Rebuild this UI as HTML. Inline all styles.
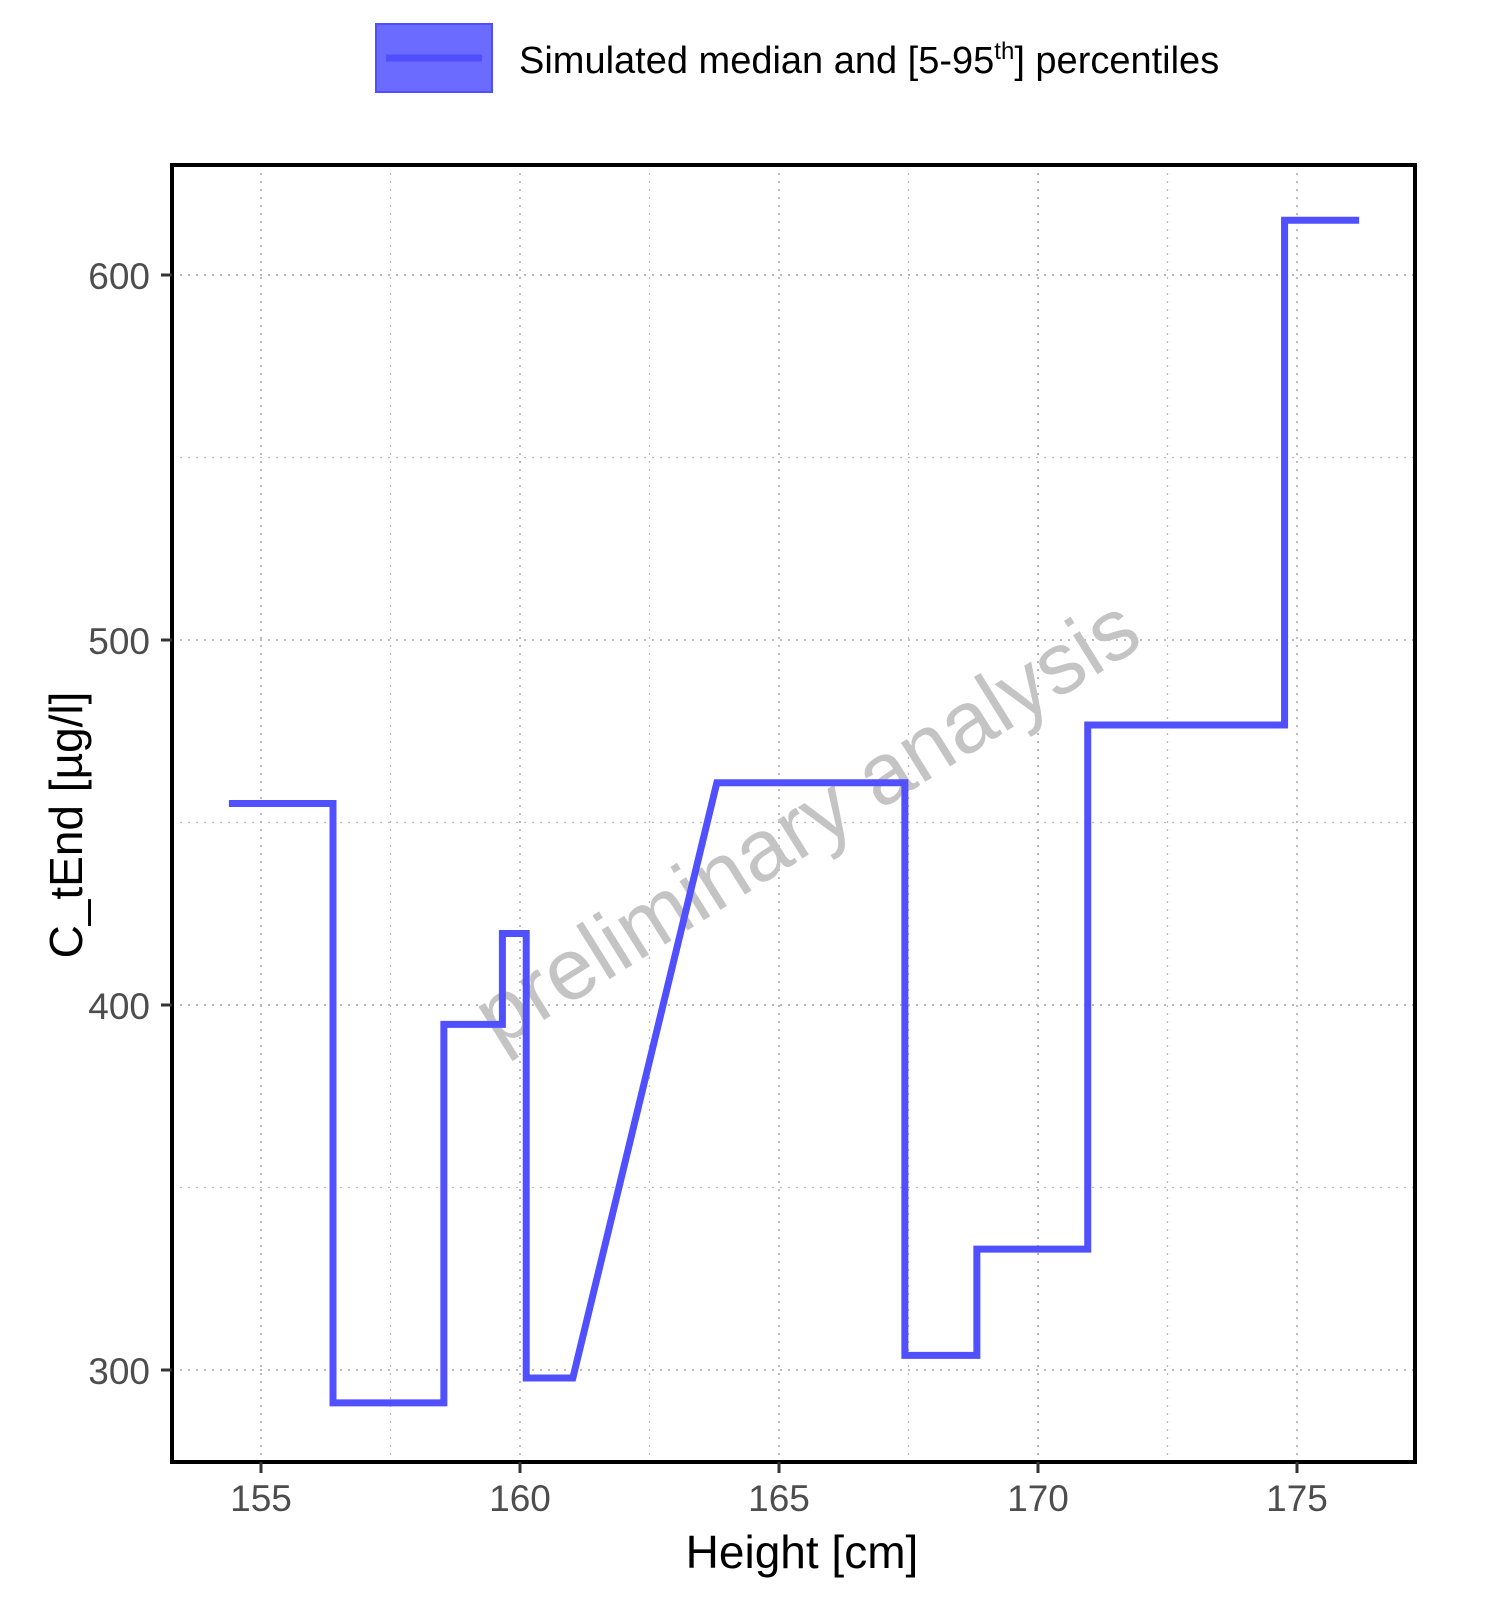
<!DOCTYPE html>
<html><head><meta charset="utf-8"><style>body{margin:0;background:#fff}svg{display:block;font-family:"Liberation Sans",Arial,sans-serif}</style></head>
<body>
<svg id="chart" width="1500" height="1617" viewBox="0 0 1500 1617">
<g>
<rect x="376" y="24" width="116" height="68" fill="#6b6bff" stroke="#4f4fff" stroke-width="2"/>
<line x1="386" y1="58" x2="482" y2="58" stroke="#4f4fff" stroke-width="7"/>
<text x="519" y="73" font-size="38" fill="#000">Simulated median and [5-95<tspan font-size="24" dy="-14">th</tspan><tspan dy="14">] percentiles</tspan></text>
</g>
<g id="grid"></g>
<text x="806" y="851" font-size="87" fill="#c4c4c4" text-anchor="middle" transform="rotate(-32 806 821)">preliminary analysis</text>
<g id="series"></g>
<rect x="172" y="165" width="1243" height="1297" fill="none" stroke="#000" stroke-width="4"/>
<g id="axes"></g>
<text x="802" y="1568" font-size="46" text-anchor="middle" fill="#000">Height [cm]</text>
<text x="0" y="0" font-size="46" text-anchor="middle" fill="#000" transform="translate(82 825) rotate(-90)">C_tEnd [µg/l]</text>
</svg>
<script>
const xTicks=[155,160,165,170,175];
const yTicks=[300,400,500,600];
const xMinor=[157.5,162.5,167.5,172.5];
const yMinor=[350,450,550];
const xs=[154.38,156.39,156.39,158.53,158.53,159.66,159.66,160.12,160.12,161.02,163.8,167.43,167.43,168.82,168.82,170.96,170.96,174.76,174.76,176.2];
const ys=[455.2,455.2,291,291,394.7,394.7,419.6,419.6,297.8,297.8,460.9,460.9,304,304,333.1,333.1,476.7,476.7,615,615];
const L=172,R=1415,T=165,B=1462;
function sx(v){return 261+(v-155)*51.8;}
function sy(v){return 275+(600-v)*3.65;}
const NS="http://www.w3.org/2000/svg";
function mk(t,a,p){const e=document.createElementNS(NS,t);for(const k in a)e.setAttribute(k,a[k]);p.appendChild(e);return e;}
const g=document.getElementById('grid');
xTicks.concat(xMinor).forEach(v=>{const e=mk('line',{x1:sx(v),x2:sx(v),y1:T,y2:B,stroke:'#bbb','stroke-width':xTicks.includes(v)?2:1.3,'stroke-dasharray':'2 6'},g);

});
yTicks.concat(yMinor).forEach(v=>{const e=mk('line',{x1:L,x2:R,y1:sy(v),y2:sy(v),stroke:'#bbb','stroke-width':yTicks.includes(v)?2:1.3,'stroke-dasharray':'2 6'},g);

});
const s=document.getElementById('series');
const pl=mk('polyline',{points:xs.map((x,i)=>sx(x)+','+sy(ys[i])).join(' '),fill:'none',stroke:'#5050ff','stroke-width':7,'stroke-linejoin':'miter'},s);


const a=document.getElementById('axes');
xTicks.forEach(v=>{const t=mk('line',{x1:sx(v),x2:sx(v),y1:B,y2:B+11,stroke:'#333','stroke-width':3},a);


const l=mk('text',{x:sx(v),y:1511,'font-size':37,fill:'#4d4d4d','text-anchor':'middle'},a);l.textContent=v;

});
yTicks.forEach(v=>{const t=mk('line',{x1:L-11,x2:L,y1:sy(v),y2:sy(v),stroke:'#333','stroke-width':3},a);


const l=mk('text',{x:150,y:sy(v)+14,'font-size':37,fill:'#4d4d4d','text-anchor':'end'},a);l.textContent=v;

});
</script>
</body></html>
